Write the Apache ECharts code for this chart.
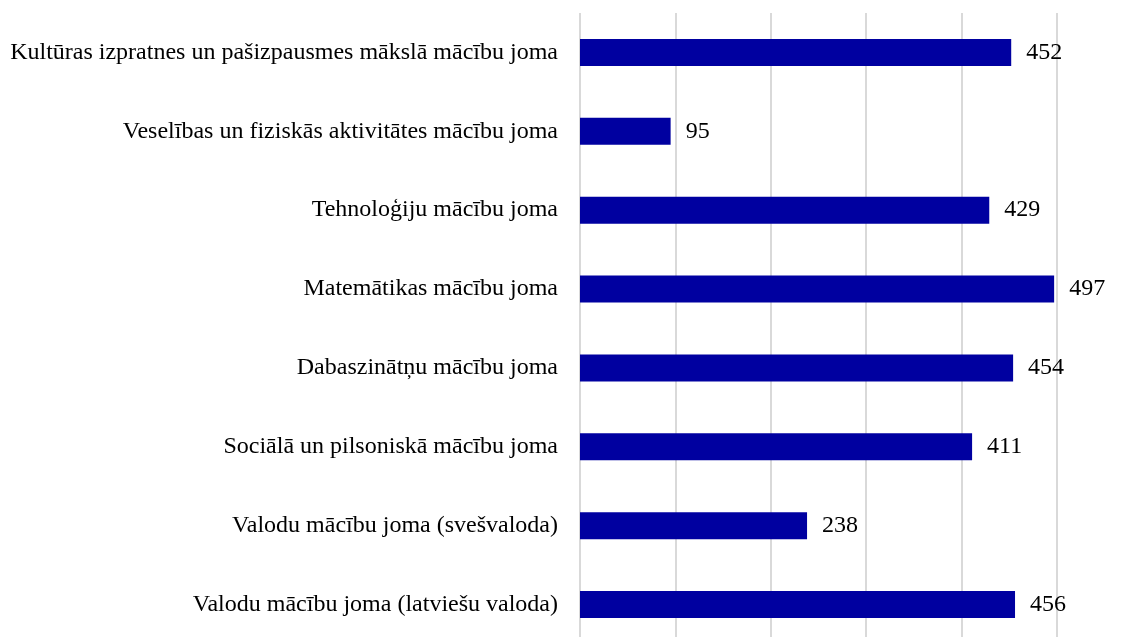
<!DOCTYPE html>
<html>
<head>
<meta charset="utf-8">
<script src="https://cdn.jsdelivr.net/npm/echarts@6/dist/echarts.min.js"></script>
<style>
  html, body { margin: 0; padding: 0; background: #fff; overflow: hidden; }
  #chart { width: 1146px; height: 644px; }
</style>
</head>
<body>
<div id="chart"></div>
<script>
// kategorijas no apakšas uz augšu
const categories = [
  'Valodu mācību joma (latviešu valoda)',
  'Valodu mācību joma (svešvaloda)',
  'Sociālā un pilsoniskā mācību joma',
  'Dabaszinātņu mācību joma',
  'Matemātikas mācību joma',
  'Tehnoloģiju mācību joma',
  'Veselības un fiziskās aktivitātes mācību joma',
  'Kultūras izpratnes un pašizpausmes mākslā mācību joma'
]
const values = [456, 238, 411, 454, 497, 429, 95, 452]

// diagramma ir nedaudz augstāka par logu, apakša tiek nogriezta kā oriģinālā
const chart = echarts.init(document.getElementById('chart'))
chart.setOption({
  animation: false,
  textStyle: { fontFamily: 'Liberation Serif' },
  grid: { left: 580, top: 13, bottom: 0, width: 477, containLabel: false },
  xAxis: {
    type: 'value',
    min: 0,
    max: 500,
    interval: 100,
    axisLabel: { show: false },
    axisLine: { show: false },
    axisTick: { show: false },
    splitLine: { show: true, lineStyle: { color: '#d9d9d9', width: 2 } }
  },
  yAxis: {
    type: 'category',
    data: categories,
    axisLine: { show: false },
    axisTick: { show: false },
    axisLabel: { color: '#000', fontSize: 24, margin: 22, fontFamily: 'Liberation Serif' }
  },
  series: [
    {
      type: 'bar',
      data: values,
      barWidth: 27,
      itemStyle: { color: '#0000a0' },
      label: {
        show: true,
        position: 'right',
        distance: 15,
        color: '#000',
        fontSize: 24,
        fontFamily: 'Liberation Serif'
      }
    }
  ]
})
</script>
</body>
</html>
